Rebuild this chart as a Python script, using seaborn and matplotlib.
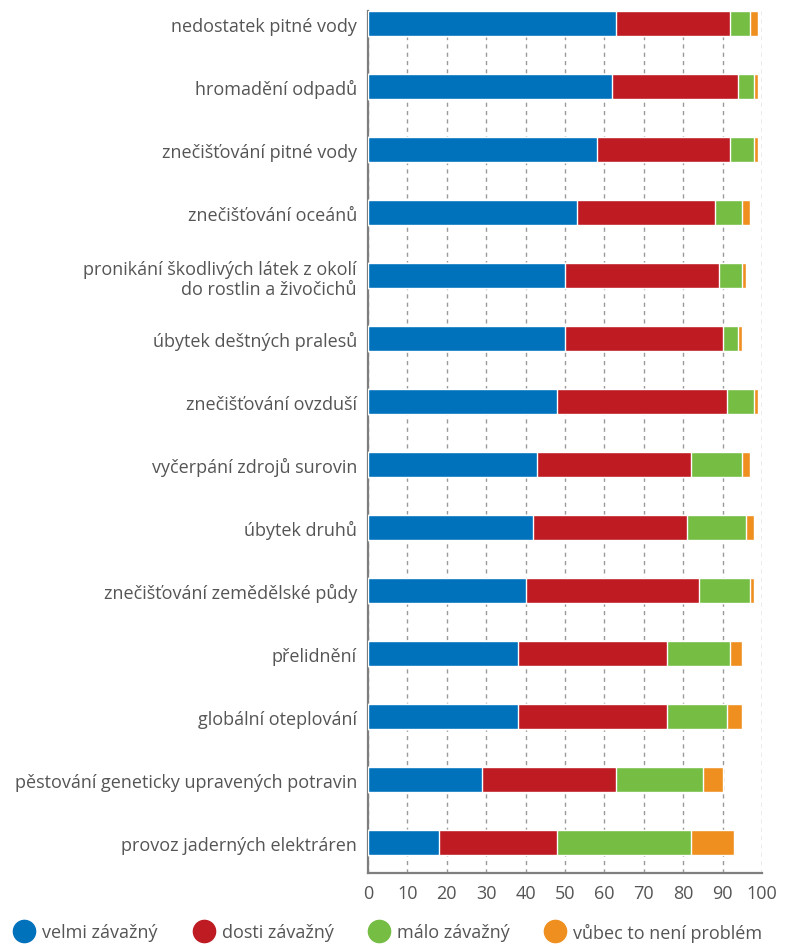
import matplotlib
matplotlib.use("Agg")
import matplotlib.pyplot as plt
from matplotlib.lines import Line2D
import numpy as np
import pandas as pd
import seaborn as sns

# Data (percent of respondents)
categories = [
    "nedostatek pitné vody",
    "hromadění odpadů",
    "znečišťování pitné vody",
    "znečišťování oceánů",
    "pronikání škodlivých látek z okolí\ndo rostlin a živočichů",
    "úbytek deštných pralesů",
    "znečišťování ovzduší",
    "vyčerpání zdrojů surovin",
    "úbytek druhů",
    "znečišťování zemědělské půdy",
    "přelidnění",
    "globální oteplování",
    "pěstování geneticky upravených potravin",
    "provoz jaderných elektráren",
]
velmi = [63, 62, 58, 53, 50, 50, 48, 43, 42, 40, 38, 38, 29, 18]
dosti = [29, 32, 34, 35, 39, 40, 43, 39, 39, 44, 38, 38, 34, 30]
malo = [5, 4, 6, 7, 6, 4, 7, 13, 15, 13, 16, 15, 22, 34]
vubec = [2, 1, 1, 2, 1, 1, 1, 2, 2, 1, 3, 4, 5, 11]

series_names = ["velmi závažný", "dosti závažný", "málo závažný", "vůbec to není problém"]
colors = ["#0072BC", "#BE1B22", "#76BD43", "#EE8F1F"]

df = pd.DataFrame({"kategorie": categories, series_names[0]: velmi,
                   series_names[1]: dosti, series_names[2]: malo,
                   series_names[3]: vubec})
cum = df[series_names].cumsum(axis=1)
cum["kategorie"] = df["kategorie"]

sns.set_style("white")
plt.rcParams["font.family"] = ["Open Sans", "DejaVu Sans"]
text_col = "#555555"

fig = plt.figure(figsize=(7.89, 9.45), dpi=100)
ax = fig.add_axes([0.4664, 0.0751, 0.4994, 0.9122])

# stacked bars: draw cumulative totals from the largest down
for name, col in reversed(list(zip(series_names, colors))):
    sns.barplot(data=cum, y="kategorie", x=name, orient="h", color=col,
                width=0.4, saturation=1, ax=ax, zorder=3)

ax.set_xlim(0, 100)
ax.set_ylim(13.48, -0.2)
ax.set_xticks(np.arange(0, 101, 10))
ax.set_xlabel("")
ax.set_ylabel("")
ax.grid(axis="x", color="#9a9a9a", linestyle=(0, (3, 3)), linewidth=1, zorder=0)
ax.grid(axis="y", visible=False)
ax.set_axisbelow(True)
for s in ["top", "right"]:
    ax.spines[s].set_visible(False)
for s in ["left", "bottom"]:
    ax.spines[s].set_color("#7f7f7f")
    ax.spines[s].set_linewidth(1.6)
ax.tick_params(axis="x", length=0, pad=8, labelsize=13, labelcolor=text_col)
ax.tick_params(axis="y", length=0, pad=8, labelsize=13, labelcolor=text_col)
for lbl in ax.get_yticklabels():
    lbl.set_horizontalalignment("right")
    lbl.set_multialignment("right")

# legend: one entry per block, placed along the bottom edge
leg_x = [15, 195, 370, 546]  # left of each entry, px
for name, col, x in zip(series_names, colors, leg_x):
    h = Line2D([], [], marker="o", linestyle="", markersize=16,
               markerfacecolor=col, markeredgecolor=col)
    leg = fig.legend([h], [name], loc="center left",
                     bbox_to_anchor=(x / 789, 1 - 933 / 945), frameon=False,
                     fontsize=13, handlelength=1.0, handletextpad=0.5,
                     borderpad=0, borderaxespad=0)
    leg.get_texts()[0].set_color(text_col)

fig.savefig("out.png", dpi=100)
